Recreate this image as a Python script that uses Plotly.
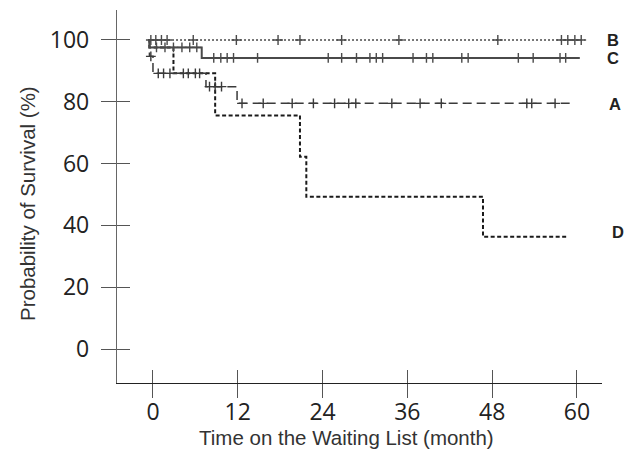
import plotly.graph_objects as go

# ---- data ----
x_ticks = [0, 12, 24, 36, 48, 60]
y_ticks = [0, 20, 40, 60, 80, 100]

# step curves: (time, survival %) points; last point = end of follow-up
A_times = [-0.7, -0.5, 0.0, 7.5, 11.9, 59.2]
A_surv = [100, 94.7, 89.2, 84.9, 79.5, 79.5]
A_censor = [-0.3, 0.75, 1.5, 2.4, 4.3, 5.0, 6.0, 6.6, 8.0, 8.8, 9.7,
            12.6, 15.6, 19.7, 22.7, 25.7, 27.7, 28.7, 33.8, 37.8, 40.8,
            52.9, 53.6, 56.9]

B_times = [-0.7, 61.1]
B_surv = [100, 100]
B_censor = [-0.3, 0.4, 1.2, 2.0, 5.7, 11.8, 17.7, 20.8, 26.7, 34.8, 48.8,
            57.8, 58.7, 59.7, 60.6]

C_times = [-0.7, -0.5, 6.9, 60.4]
C_surv = [100, 97.6, 94.2, 94.2]
C_censor = [0.5, 1.7, 2.9, 4.1, 5.2, 6.2, 8.6, 9.6, 10.5, 11.4, 14.8,
            24.8, 26.7, 28.8, 30.7, 31.6, 32.5, 36.8, 38.7, 39.6, 43.7,
            44.6, 51.7, 53.8, 57.6, 58.4]

D_times = [-0.7, -0.5, 2.9, 8.8, 20.8, 21.7, 46.7, 58.5]
D_surv = [100, 97.6, 89.2, 75.6, 62.2, 49.3, 36.3, 36.3]
D_censor = []

labels = ["A", "B", "C", "D"]


def level_at(times, surv, t):
    s = surv[0]
    for ti, si in zip(times, surv):
        if ti <= t:
            s = si
    return s


fig = go.Figure()

styles = {
    "A": dict(color="#3a3a3a", width=1.5, dash="9px,5px"),
    "B": dict(color="#4a4a4a", width=1.6, dash="2px,2px"),
    "C": dict(color="#4a4a4a", width=2.0, dash="solid"),
    "D": dict(color="#1a1a1a", width=2.0, dash="4px,2.5px"),
}
series = {
    "A": (A_times, A_surv, A_censor),
    "B": (B_times, B_surv, B_censor),
    "C": (C_times, C_surv, C_censor),
    "D": (D_times, D_surv, D_censor),
}

for name in ["D", "A", "C", "B"]:
    t, s, c = series[name]
    st = styles[name]
    fig.add_trace(go.Scatter(x=t, y=s, mode="lines", line_shape="hv",
                             line=st, showlegend=False, hoverinfo="skip"))
    if c:
        fig.add_trace(go.Scatter(
            x=c, y=[level_at(t, s, ci) for ci in c], mode="markers",
            marker=dict(symbol="cross-thin", size=7,
                        line=dict(color=st["color"], width=1.4)),
            showlegend=False, hoverinfo="skip"))

# dummy trace for the overlay axes (outer half of crossing ticks)
fig.add_trace(go.Scatter(x=[None], y=[None], xaxis="x2", yaxis="y2",
                         showlegend=False))

xr = [-5.09, 63.54]
yr = [-11.0, 109.7]
tickfont = dict(family="Open Sans", size=23, color="#222")

fig.update_layout(
    width=634, height=457,
    margin=dict(l=117, r=32, t=10, b=74),
    plot_bgcolor="white", paper_bgcolor="white",
    xaxis=dict(range=xr, tickvals=x_ticks, ticktext=[str(v) for v in x_ticks],
               ticks="inside", ticklen=13, tickwidth=1.3, tickcolor="#555",
               showline=True, linecolor="#222", linewidth=1.3,
               showgrid=False, zeroline=False, tickfont=tickfont,
               ticklabelstandoff=8),
    yaxis=dict(range=yr, tickvals=y_ticks, ticktext=[str(v) for v in y_ticks],
               ticks="inside", ticklen=13, tickwidth=1.3, tickcolor="#555",
               showline=True, linecolor="#666", linewidth=1.3,
               showgrid=False, zeroline=False, tickfont=tickfont,
               ticklabelstandoff=22),
    xaxis2=dict(range=xr, overlaying="x", anchor="y", side="bottom",
                tickvals=x_ticks, ticks="outside", ticklen=14, tickwidth=1.3,
                tickcolor="#555", showticklabels=False, showgrid=False,
                zeroline=False, showline=False),
    yaxis2=dict(range=yr, overlaying="y", anchor="x", side="left",
                tickvals=y_ticks, ticks="outside", ticklen=15, tickwidth=1.3,
                tickcolor="#555", showticklabels=False, showgrid=False,
                zeroline=False, showline=False),
)

annos = [
    dict(text="Time on the Waiting List (month)", x=346, y=438,
         font=dict(family="Liberation Sans", size=20.5, color="#333")),
    dict(text="Probability of Survival (%)", x=27, y=204, textangle=-90,
         font=dict(family="Liberation Sans", size=20.5, color="#333")),
]
label_pos = {"B": (612.5, 39.5), "C": (612.5, 58), "A": (615, 104), "D": (618, 231.5)}
for name in ["B", "C", "A", "D"]:
    px, py = label_pos[name]
    annos.append(dict(text="<b>%s</b>" % name, x=px, y=py, height=16,
                      font=dict(family="Liberation Sans", size=16.5, color="#222")))

for a in annos:
    a.update(xref="paper", yref="paper", showarrow=False,
             xanchor="center", yanchor="middle")
    a["x"] = (a["x"] - 117) / (602 - 117)
    a["y"] = (383 - a["y"]) / (383 - 10)
    fig.add_annotation(**a)

fig.write_html("out.html", config={"displayModeBar": False},
               post_script="document.body.style.margin='0';document.body.style.padding='0';")
